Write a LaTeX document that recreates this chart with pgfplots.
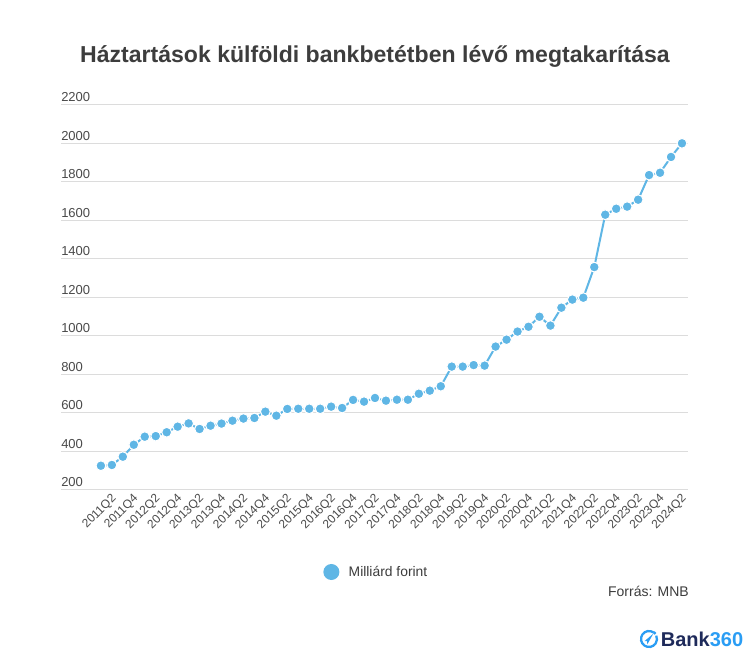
\documentclass[border=0pt]{standalone}
\usepackage{pgfplots}
\pgfplotsset{compat=1.18}
\usepackage{fontspec}
\setmainfont{Liberation Sans}

\definecolor{series}{HTML}{5FB6E5}
\definecolor{titlegray}{HTML}{3D3D3D}
\definecolor{tickgray}{HTML}{4A4A4A}
\definecolor{gridgray}{HTML}{DCDCDC}
\definecolor{logonavy}{HTML}{1E2A5A}
\definecolor{logoblue}{HTML}{2A9DF4}

\begin{document}
\begin{tikzpicture}
\path[use as bounding box, fill=white] (0,0) rectangle (562.5pt,503.25pt);

\node[anchor=base, font=\bfseries\fontsize{17.3}{20}\selectfont, text=titlegray]
  at (281.25pt,456.4pt) {Háztartások külföldi bankbetétben lévő megtakarítása};

\begin{axis}[
    at={(45.75pt,135.75pt)}, anchor=south west,
    scale only axis, width=470.25pt, height=288.75pt,
    xmin=-3.64, xmax=53.55,
    ymin=200, ymax=2200,
    ytick={200,400,...,2200},
    xtick={1,3,...,53},
    xticklabels={2011Q2,2011Q4,2012Q2,2012Q4,2013Q2,2013Q4,2014Q2,2014Q4,
        2015Q2,2015Q4,2016Q2,2016Q4,2017Q2,2017Q4,2018Q2,2018Q4,2019Q2,2019Q4,
        2020Q2,2020Q4,2021Q2,2021Q4,2022Q2,2022Q4,2023Q2,2023Q4,2024Q2},
    ymajorgrids,
    grid style={gridgray, line width=0.75pt},
    axis line style={draw=none},
    major tick length=0pt,
    ticklabel style={text=tickgray},
    yticklabel style={font=\fontsize{9.75}{11}\selectfont, anchor=base west, inner sep=0pt, yshift=2.5pt},
    xticklabel style={font=\fontsize{9}{10}\selectfont, yshift=-5pt, xshift=2pt, rotate=45, anchor=east, inner sep=0pt},
    /pgf/number format/assume math mode=true,
    /pgf/number format/1000 sep={},
    legend style={at={(0.5024,-0.213)}, anchor=center, draw=none, fill=none,
        font=\fontsize{10.4}{12}\selectfont, text=titlegray, column sep=6pt,
        nodes={inner sep=1pt}},
    legend image code/.code={\fill[series] (5.25pt,0pt) circle (5.25pt);},
    clip=false,
]
\addplot[series, line width=1.5pt, mark=*, mark size=3.7pt,
    mark options={fill=series, draw=white, line width=0.8pt}] coordinates {
    (0,326) (1,330) (2,373) (3,435) (4,477) (5,480) (6,500) (7,529)
    (8,546) (9,517) (10,534) (11,545) (12,560) (13,571) (14,574) (15,607)
    (16,586) (17,621) (18,622) (19,622) (20,622) (21,633) (22,626) (23,668)
    (24,659) (25,678) (26,664) (27,669) (28,669) (29,700) (30,716) (31,739)
    (32,841) (33,841) (34,849) (35,846) (36,945) (37,981) (38,1023) (39,1048)
    (40,1100) (41,1054) (42,1147) (43,1189) (44,1199) (45,1358) (46,1630) (47,1661)
    (48,1672) (49,1708) (50,1836) (51,1848) (52,1930) (53,2001)
};
\addlegendentry{Milliárd forint}
\end{axis}

\node[anchor=base east, inner sep=0pt, font=\fontsize{10.5}{12}\selectfont, text=titlegray]
  at (516.75pt,55.5pt) {Forrás: MNB};

% logo
\draw[logoblue, line width=1.7pt] (486.75pt,24pt) ++(55:6pt) arc (55:385:6pt);
\fill[logoblue] (486.75pt,24pt) ++(47:6.2pt) circle (1.3pt);
\fill[logoblue] (483.5pt,22.5pt) -- (490pt,28pt) -- (485.5pt,20pt) -- (485.3pt,22.4pt) -- cycle;
\node[anchor=base west, inner sep=0pt, font=\bfseries\fontsize{15}{17}\selectfont]
  at (495.5pt,18pt) {\textcolor{logonavy}{Bank}\textcolor{logoblue}{360}};
\end{tikzpicture}
\end{document}
